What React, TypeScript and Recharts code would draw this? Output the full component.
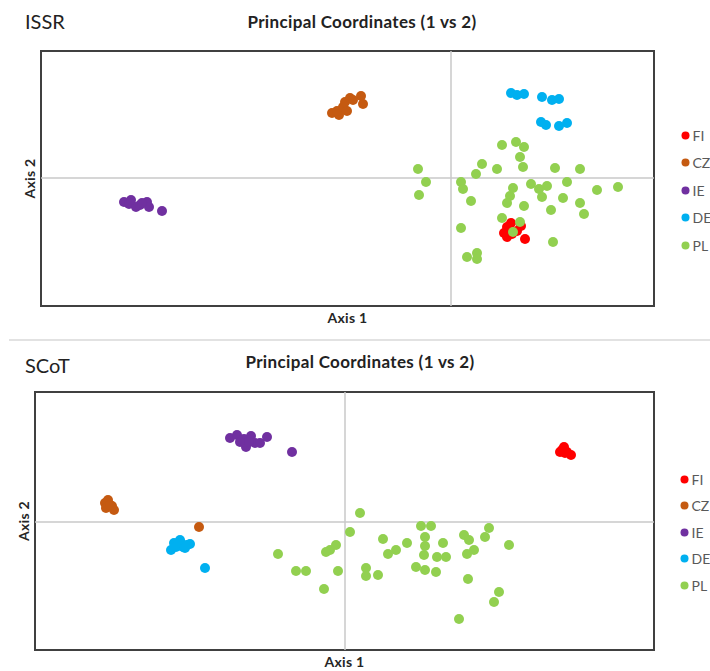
import React from 'react';
import { ScatterChart, Scatter, XAxis, YAxis, ReferenceLine, ReferenceArea, Legend } from 'recharts';

const FONT = 'Lato, "Open Sans", "DejaVu Sans", sans-serif';

const populations = ['FI', 'CZ', 'IE', 'DE', 'PL'];
const colors = ['#FF0000', '#C55A11', '#7030A0', '#00B0F0', '#92D050'];

// ISSR – Principal Coordinates (axis 1, axis 2)
const issrFI: [number, number][] = [
  [0.53, -0.55], [0.56, -0.49], [0.6, -0.45], [0.56, -0.59], [0.61, -0.56], [0.66, -0.53], [0.7, -0.48], [0.74, -0.61],
];
const issrCZ: [number, number][] = [
  [-1.19, 0.65], [-1.12, 0.63], [-1.14, 0.67], [-1.08, 0.71], [-1.04, 0.67], [-1.06, 0.76], [-1.01, 0.8], [-0.98, 0.78], [-0.9, 0.82], [-0.88, 0.74],
];
const issrIE: [number, number][] = [
  [-3.27, -0.24], [-3.22, -0.26], [-3.15, -0.29], [-3.11, -0.27], [-3.04, -0.24], [-3.02, -0.29], [-2.89, -0.33], [-3.2, -0.22], [-3.09, -0.25],
];
const issrDE: [number, number][] = [
  [0.6, 0.85], [0.66, 0.83], [0.73, 0.84], [0.91, 0.81], [1.01, 0.78], [1.08, 0.79], [0.9, 0.56], [0.95, 0.53], [1.08, 0.52], [1.16, 0.55],
];
const issrPL: [number, number][] = [
  [0.51, 0.33], [0.65, 0.36], [0.73, 0.31], [0.69, 0.21], [0.72, 0.11], [0.31, 0.14], [0.25, 0.04], [0.46, 0.09],
  [-0.33, 0.09], [-0.25, -0.04], [-0.32, -0.17], [0.1, -0.04], [0.12, -0.11], [0.2, -0.23], [0.62, -0.1], [0.59, -0.18],
  [0.56, -0.25], [0.73, -0.28], [0.8, -0.06], [0.88, -0.11], [0.91, -0.19], [0.96, -0.08], [1.04, 0.1], [1.29, 0.09],
  [1.16, -0.04], [1.12, -0.2], [1.0, -0.32], [1.29, -0.25], [1.33, -0.36], [1.46, -0.12], [1.67, -0.09], [0.51, -0.4],
  [0.69, -0.44], [0.62, -0.54], [0.1, -0.5], [0.16, -0.79], [0.26, -0.75], [0.26, -0.81], [1.02, -0.64],
];

// SCoT – Principal Coordinates (axis 1, axis 2)
const scotFI: [number, number][] = [
  [2.19, 0.75], [2.15, 0.7], [2.2, 0.69], [2.26, 0.67], [2.17, 0.72], [2.22, 0.7],
];
const scotCZ: [number, number][] = [
  [-2.4, 0.19], [-2.37, 0.22], [-2.33, 0.16], [-2.39, 0.14], [-2.31, 0.12], [-2.35, 0.17], [-1.46, -0.05],
];
const scotIE: [number, number][] = [
  [-1.15, 0.84], [-1.08, 0.87], [-1.01, 0.83], [-0.99, 0.75], [-0.94, 0.86], [-0.9, 0.79], [-0.85, 0.79], [-0.78, 0.85], [-0.53, 0.7], [-1.05, 0.8], [-0.96, 0.8],
];
const scotDE: [number, number][] = [
  [-1.74, -0.28], [-1.71, -0.21], [-1.65, -0.18], [-1.62, -0.25], [-1.58, -0.23], [-1.55, -0.22], [-1.69, -0.25], [-1.64, -0.21], [-1.6, -0.26], [-1.4, -0.46],
];
const scotPL: [number, number][] = [
  [0.15, 0.09], [0.05, -0.1], [0.38, -0.17], [0.51, -0.28], [0.43, -0.32], [0.62, -0.21], [0.76, -0.04], [0.86, -0.04],
  [0.8, -0.15], [0.8, -0.24], [0.79, -0.33], [0.98, -0.21], [0.92, -0.35], [1.01, -0.35], [1.19, -0.13], [1.24, -0.18],
  [1.4, -0.15], [1.44, -0.06], [1.64, -0.23], [1.22, -0.32], [1.29, -0.28], [0.71, -0.45], [0.8, -0.48], [0.91, -0.5],
  [1.23, -0.57], [1.54, -0.7], [1.49, -0.8], [1.14, -0.97], [0.21, -0.46], [0.21, -0.54], [0.33, -0.53], [-0.07, -0.49],
  [-0.39, -0.49], [-0.49, -0.49], [-0.21, -0.67], [-0.67, -0.32], [-0.15, -0.28], [-0.09, -0.23], [-0.19, -0.3],
];

const issrSeries = [issrFI, issrCZ, issrIE, issrDE, issrPL];
const scotSeries = [scotFI, scotCZ, scotIE, scotDE, scotPL];

const issrXDomain: [number, number] = [-4.1, 2.03];
const issrYDomain: [number, number] = [-1.28, 1.27];
const scotXDomain: [number, number] = [-3.1, 3.09];
const scotYDomain: [number, number] = [-1.28, 1.3];

const toPoints = (arr: [number, number][]) => arr.map(([x, y]) => ({ x, y }));

const Dot = (props: any) => <circle cx={props.cx} cy={props.cy} r={5} fill={props.fill} />;

const makeLegend = (itemH: number) => (props: any) => {
  const items = [...(props.payload || [])].sort(
    (a: any, b: any) => populations.indexOf(a.value) - populations.indexOf(b.value)
  );
  return (
    <div>
      {items.map((e: any) => (
        <div
          key={e.value}
          style={{
            height: itemH,
            display: 'flex',
            alignItems: 'center',
            fontFamily: FONT,
            fontSize: 14,
            color: '#595959',
            whiteSpace: 'nowrap',
          }}
        >
          <svg width={9} height={9} style={{ marginRight: 3, flex: 'none' }}>
            <circle cx={4.5} cy={4.5} r={4} fill={e.color} />
          </svg>
          {e.value}
        </div>
      ))}
    </div>
  );
};

type PanelProps = {
  height: number;
  margin: { top: number; right: number; bottom: number; left: number };
  yWidth: number;
  xDomain: [number, number];
  yDomain: [number, number];
  series: [number, number][][];
  legendLeft: number;
  legendTop: number;
  itemH: number;
};

const axisLabelStyle = { fontFamily: FONT, fontSize: 14, fontWeight: 700, fill: '#262626', letterSpacing: 0.3 };

function Panel(p: PanelProps) {
  return (
    <ScatterChart width={710} height={p.height} margin={p.margin}>
      <XAxis
        type="number"
        dataKey="x"
        domain={p.xDomain}
        allowDataOverflow
        tick={false}
        tickLine={false}
        axisLine={false}
        height={20}
        label={{ value: 'Axis 1', position: 'insideTop', offset: 7, ...axisLabelStyle }}
      />
      <YAxis
        type="number"
        dataKey="y"
        domain={p.yDomain}
        allowDataOverflow
        tick={false}
        tickLine={false}
        axisLine={false}
        width={p.yWidth}
        label={{ value: 'Axis 2', position: 'center', angle: -90, ...axisLabelStyle }}
      />
      <ReferenceLine x={0} stroke="#C8C8C8" strokeWidth={1.5} />
      <ReferenceLine y={0} stroke="#C8C8C8" strokeWidth={1.5} />
      {p.series.map((s, i) => (
        <Scatter
          key={populations[i]}
          name={populations[i]}
          data={toPoints(s)}
          fill={colors[i]}
          shape={Dot}
          isAnimationActive={false}
        />
      ))}
      <ReferenceArea
        x1={p.xDomain[0]}
        x2={p.xDomain[1]}
        y1={p.yDomain[0]}
        y2={p.yDomain[1]}
        fill="none"
        fillOpacity={0}
        stroke="#404040"
        strokeWidth={2}
        ifOverflow="visible"
      />
      <Legend
        layout="vertical"
        align="center"
        verticalAlign="middle"
        wrapperStyle={{ left: p.legendLeft, top: p.legendTop, width: 40, height: p.itemH * 5 }}
        content={makeLegend(p.itemH)}
      />
    </ScatterChart>
  );
}

export default function App() {
  return (
    <div style={{ position: 'absolute', left: 0, top: 0, width: 710, height: 671, background: '#fff', overflow: 'hidden' }}>
      <div style={{ position: 'absolute', left: 0, top: 0 }}>
        <Panel
          height={340}
          margin={{ top: 51, right: 56, bottom: 14, left: 20 }}
          yWidth={21}
          xDomain={issrXDomain}
          yDomain={issrYDomain}
          series={issrSeries}
          legendLeft={680.5}
          legendTop={121.25}
          itemH={27.5}
        />
      </div>
      <div style={{ position: 'absolute', left: 0, top: 340 }}>
        <Panel
          height={331}
          margin={{ top: 52, right: 56, bottom: 1, left: 13 }}
          yWidth={22}
          xDomain={scotXDomain}
          yDomain={scotYDomain}
          series={scotSeries}
          legendLeft={679.5}
          legendTop={125.75}
          itemH={26.5}
        />
      </div>
      <svg
        width={710}
        height={671}
        style={{ position: 'absolute', left: 0, top: 0, pointerEvents: 'none' }}
      >
        <text x={25} y={29} fontFamily={FONT} fontSize={20} fill="#222">ISSR</text>
        <text x={362} y={28} textAnchor="middle" fontFamily={FONT} fontSize={17} fontWeight={700} letterSpacing={0.35} fill="#222">
          Principal Coordinates (1 vs 2)
        </text>
        <line x1={9} y1={340} x2={710} y2={340} stroke="#D9D9D9" strokeWidth={1.5} />
        <text x={25} y={373} fontFamily={FONT} fontSize={20} fill="#222">SCoT</text>
        <text x={360} y={368} textAnchor="middle" fontFamily={FONT} fontSize={17} fontWeight={700} letterSpacing={0.35} fill="#222">
          Principal Coordinates (1 vs 2)
        </text>
      </svg>
    </div>
  );
}
